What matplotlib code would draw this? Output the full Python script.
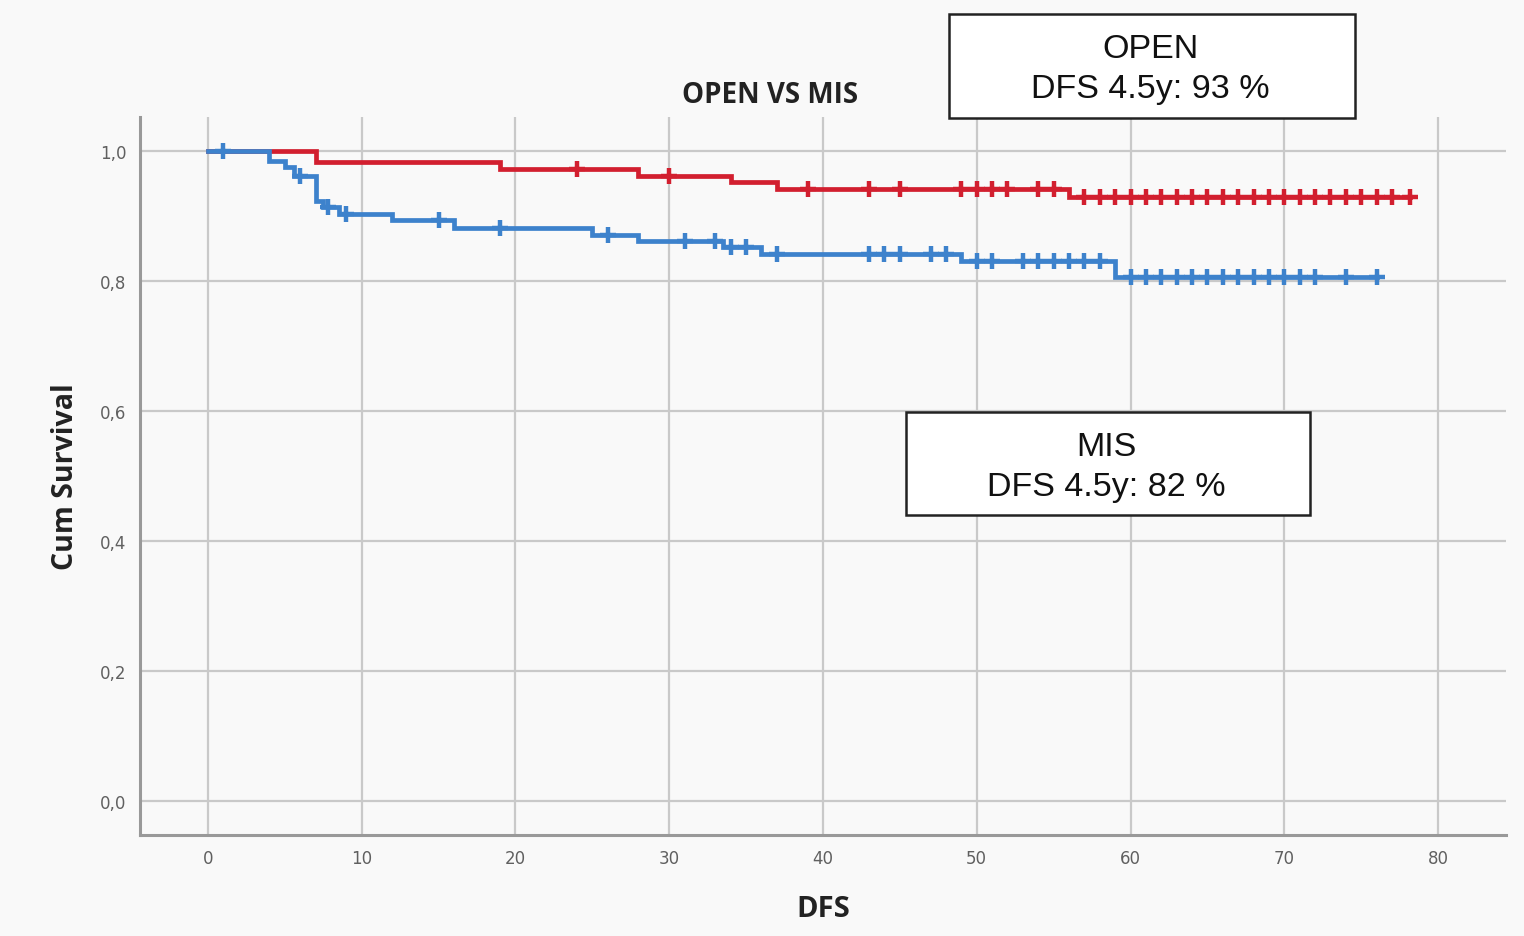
import numpy as np
import matplotlib
matplotlib.use("Agg")
import matplotlib.pyplot as plt
from matplotlib.patches import Rectangle

# Kaplan-Meier step estimates (time in months, cumulative survival)
open_event_t = [0, 7, 19, 28, 34, 37, 56]
open_surv = [1.0, 0.983, 0.972, 0.962, 0.952, 0.942, 0.929]
open_end_t = 78.2
open_censor_t = [24, 30, 39, 43, 45, 49, 50, 51, 52, 54, 55,
                 57, 58, 59, 60, 61, 62, 63, 64, 65, 66, 67, 68, 69,
                 70, 71, 72, 73, 74, 75, 76, 77, 78.2]

mis_event_t = [0, 4, 5, 5.6, 7, 7.5, 8.5, 12, 16, 25, 28, 33.5, 36, 49, 59]
mis_surv = [1.0, 0.985, 0.975, 0.962, 0.923, 0.913, 0.903, 0.893, 0.8815,
            0.871, 0.861, 0.852, 0.8415, 0.831, 0.8056]
mis_end_t = 76
mis_censor_t = [1, 6, 7.8, 9, 15, 19, 26, 31, 33, 34, 35, 37, 43, 44, 45,
                47, 48, 50, 51, 53, 54, 55, 56, 57, 58,
                60, 61, 62, 63, 64, 65, 66, 67, 68, 69, 70, 71, 72, 74, 76]

x_ticks = [0, 10, 20, 30, 40, 50, 60, 70, 80]
y_ticks = [0.0, 0.2, 0.4, 0.6, 0.8, 1.0]
y_tick_labels = ["0,0", "0,2", "0,4", "0,6", "0,8", "1,0"]

open_label = "OPEN\nDFS 4.5y: 93 %"
mis_label = "MIS\nDFS 4.5y: 82 %"

open_color = "#d21f2f"
mis_color = "#3d82cc"


def km_value(times, surv, t):
    idx = np.searchsorted(times, t, side="right") - 1
    return np.asarray(surv)[idx]


fig = plt.figure(figsize=(15.24, 9.37), dpi=100, facecolor="#f9f9f9")
ax = fig.add_axes([0.092, 0.108, 0.896, 0.766])
ax.set_facecolor("#f9f9f9")

for ev_t, sv, end_t, cen_t, col in [
    (open_event_t, open_surv, open_end_t, open_censor_t, open_color),
    (mis_event_t, mis_surv, mis_end_t, mis_censor_t, mis_color),
]:
    xs = list(ev_t) + [end_t]
    ys = list(sv) + [sv[-1]]
    ax.step(xs, ys, where="post", color=col, lw=3.4, zorder=3,
            solid_joinstyle="miter")
    cy = km_value(ev_t, sv, np.asarray(cen_t))
    ax.plot(cen_t, cy, linestyle="none", marker="+", ms=12, mew=3.2,
            color=col, zorder=4)

ax.set_xlim(-4.4, 84.4)
ax.set_ylim(-0.052, 1.052)
ax.set_xticks(x_ticks)
ax.set_yticks(y_ticks)
ax.set_yticklabels(y_tick_labels)
ax.grid(True, color="#c9c9c9", lw=1.6)
ax.set_axisbelow(True)
ax.tick_params(length=0, labelsize=12, labelcolor="#606060", pad=10)
for s in ["top", "right"]:
    ax.spines[s].set_visible(False)
for s in ["left", "bottom"]:
    ax.spines[s].set_color("#999999")
    ax.spines[s].set_linewidth(2.2)

lab_font = dict(family="Open Sans", fontweight="bold", color="#222222")
ax.set_xlabel("DFS", fontsize=21, labelpad=20, **lab_font)
ax.set_ylabel("Cum Survival", fontsize=20.5, labelpad=14, **lab_font)
fig.text(0.505, 0.898, "OPEN VS MIS", ha="center", va="center",
         fontsize=20, **lab_font)

# annotation boxes (figure coordinates)
for (x0, y0, w, h), label, cx, cy in [
    ((0.6227, 0.873, 0.2664, 0.111), open_label, 0.7546, 0.9255),
    ((0.5945, 0.4493, 0.2651, 0.110), mis_label, 0.7257, 0.5015),
]:
    fig.patches.append(Rectangle((x0, y0), w, h, transform=fig.transFigure,
                                 facecolor="white", edgecolor="#222222",
                                 linewidth=1.8, zorder=5))
    fig.text(cx, cy, label, ha="center", va="center", fontsize=24.5,
             family="Liberation Sans", linespacing=1.38, color="#111111",
             zorder=6)

fig.savefig("out.png", dpi=100, facecolor=fig.get_facecolor())
